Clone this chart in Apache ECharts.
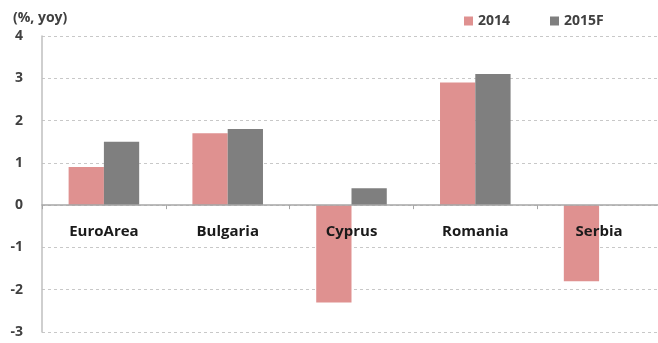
<!DOCTYPE html>
<html>
<head>
<meta charset="utf-8">
<script src="https://cdn.jsdelivr.net/npm/echarts@6/dist/echarts.min.js"></script>
<style>
  html, body { margin: 0; padding: 0; background: #fff; }
  #chart { width: 658px; height: 343px; }
</style>
</head>
<body>
<div id="chart"></div>
<script>
// Real GDP growth by economy
const categories = ['EuroArea', 'Bulgaria', 'Cyprus', 'Romania', 'Serbia'];
const values2014 = [0.9, 1.7, -2.3, 2.9, -1.8];
const values2015F = [1.5, 1.8, 0.4, 3.1, null];
const seriesNames = ['2014', '2015F'];

const font = '"Open Sans", Lato, sans-serif';
const yMin = -3, yMax = 4;
const gridTop = 36, gridHeight = 296;
// distance from the plot bottom up to the zero line, for the label row
const zeroOffset = -gridHeight * (0 - yMin) / (yMax - yMin);

const chart = echarts.init(document.getElementById('chart'));
chart.setOption({
  animation: false,
  backgroundColor: '#fff',
  title: {
    text: '(%, yoy)',
    left: 8,
    top: 6,
    textStyle: { fontFamily: font, fontWeight: 'bold', fontSize: 14, color: '#404040' }
  },
  legend: {
    data: seriesNames,
    left: 459,
    top: 9,
    itemWidth: 9,
    itemHeight: 9,
    itemGap: 40,
    icon: 'rect',
    textStyle: { fontFamily: font, fontWeight: 'bold', fontSize: 14, color: '#404040' }
  },
  grid: { left: 42, top: gridTop, width: 619, height: gridHeight, outerBoundsMode: 'none', containLabel: false },
  xAxis: [
    {
      type: 'category',
      data: categories,
      axisLine: { onZero: true, lineStyle: { color: '#a6a6a6', width: 1.5 } },
      axisTick: { show: true, length: 4, lineStyle: { color: '#a6a6a6' } },
      axisLabel: { show: false },
      z: 5
    },
    {
      // category names sitting just under the zero line
      type: 'category',
      data: categories,
      position: 'bottom',
      offset: zeroOffset,
      axisLine: { show: false },
      axisTick: { show: false },
      axisLabel: {
        margin: 19,
        fontFamily: font, fontWeight: 'bold', fontSize: 15, color: '#1a1a1a'
      },
      z: 6
    }
  ],
  yAxis: {
    type: 'value',
    min: yMin,
    max: yMax,
    interval: 1,
    axisLine: { show: true, lineStyle: { color: '#bfbfbf', width: 1.5 } },
    axisTick: { show: false },
    axisLabel: { margin: 19, fontFamily: font, fontWeight: 'bold', fontSize: 14, color: '#404040' },
    splitLine: { show: true, lineStyle: { color: '#c8c8c8', type: [3, 3] } }
  },
  series: [
    {
      name: seriesNames[0],
      type: 'bar',
      data: values2014,
      barGap: '0%',
      barCategoryGap: '43%',
      itemStyle: { color: '#df9190' }
    },
    {
      name: seriesNames[1],
      type: 'bar',
      data: values2015F,
      itemStyle: { color: '#7f7f7f' }
    }
  ]
});
</script>
</body>
</html>
